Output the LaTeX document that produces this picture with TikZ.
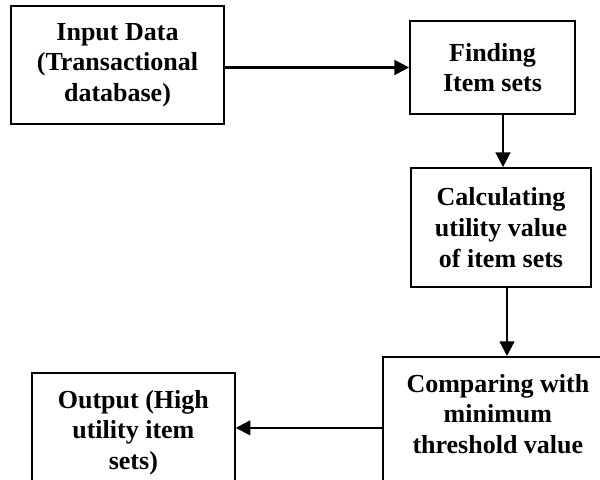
\documentclass[tikz,border=0pt]{standalone}
\usepackage{fontspec}
\setmainfont{Liberation Serif}
\usetikzlibrary{arrows.meta}
\tikzset{
    boxfont/.style={font=\fontsize{19.5}{23}\selectfont\bfseries},
    box/.style={draw, line width=1.3pt, rectangle, inner sep=0pt, align=center, boxfont},
    boxlabel/.style={inner sep=0pt, align=center, boxfont},
    flow/.style={->, line width=1.8pt}
}
\begin{document}
\begin{tikzpicture}[x=0.75pt,y=-0.75pt,>={Triangle[length=11pt,width=11pt]}]
\useasboundingbox (0,0) rectangle (600,479);
\clip (0,0) rectangle (600,479);

\node[box, minimum width=159.75pt, minimum height=88.5pt] (input) at (117.5,65)
    {Input Data\\(Transactional\\database)};
\node[box, minimum width=123.75pt, minimum height=69.75pt] (finding) at (492.5,67.5)
    {Finding\\Item sets};
\node[box, minimum width=135pt, minimum height=89.25pt] (calc) at (501,227.5)
    {Calculating\\utility value\\of item sets};
\node[box, anchor=north west, minimum width=172.5pt, minimum height=112.5pt,
    label={[boxlabel, anchor=north, yshift=-13.5pt]north:{Comparing with\\minimum\\threshold value}}]
    (compare) at (382,356) {};
\node[box, anchor=north west, minimum width=152.25pt, minimum height=82.5pt,
    label={[boxlabel, anchor=north, yshift=-13.5pt]north:{Output (High\\utility item\\sets)}}]
    (output) at (31,372) {};

\draw[flow] (finding.west -| input.east) -- (finding.west);
\draw[flow] ([xshift=1.5pt]finding.south -| calc.north) -- ([xshift=1.5pt]calc.north);
\draw[flow] ([xshift=4.5pt]calc.south) -- ([xshift=4.5pt]calc.south |- compare.north);
\draw[flow] (output.east -| compare.west) -- (output.east);

\end{tikzpicture}
\end{document}
